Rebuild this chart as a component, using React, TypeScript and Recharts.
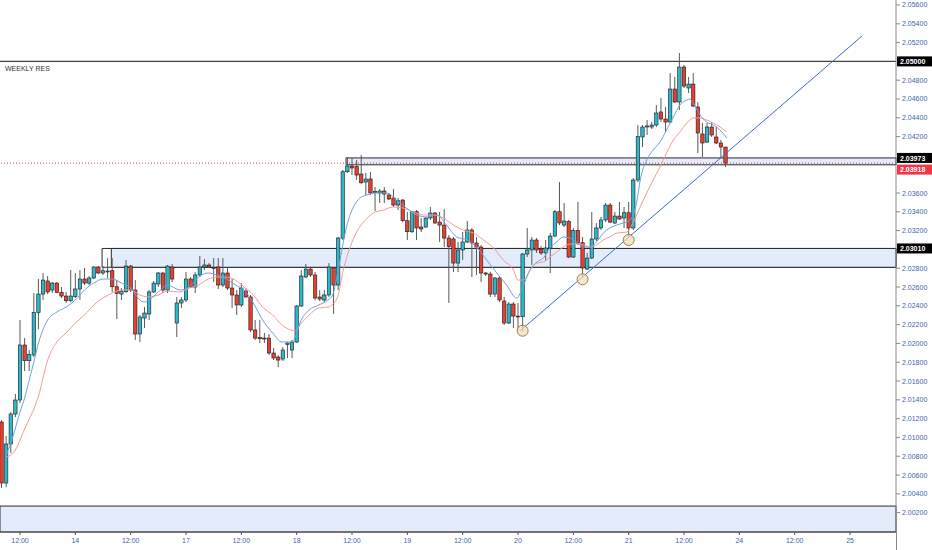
import {
  Bar,
  ComposedChart,
  Line,
  ReferenceArea,
  ReferenceDot,
  ReferenceLine,
  XAxis,
  YAxis,
} from "recharts";

// hourly candles, [open, high, low, close]
const ohlc: [number, number, number, number][] = [
  [2.01164, 2.01185, 2.00462, 2.00515], [2.00515, 2.01015, 2.00472, 2.0093], [2.0093, 2.0127, 2.00834, 2.01249],
  [2.01249, 2.01462, 2.01217, 2.01398], [2.01398, 2.02249, 2.01366, 2.01983], [2.01983, 2.02057, 2.01706, 2.01816],
  [2.01816, 2.0193, 2.01706, 2.0188], [2.01877, 2.02536, 2.01855, 2.02327], [2.02327, 2.02685, 2.02153, 2.02525],
  [2.02525, 2.02749, 2.02462, 2.02674], [2.02664, 2.02717, 2.02525, 2.02547], [2.02568, 2.02653, 2.02536, 2.02642],
  [2.02642, 2.02653, 2.02536, 2.0254], [2.0254, 2.026, 2.02483, 2.02504], [2.02504, 2.02547, 2.0243, 2.02454],
  [2.02454, 2.02781, 2.0244, 2.02504], [2.02497, 2.02749, 2.02483, 2.02579], [2.02579, 2.02781, 2.02462, 2.02685],
  [2.02685, 2.02802, 2.02621, 2.02642], [2.02642, 2.02717, 2.02621, 2.02696], [2.02696, 2.02823, 2.02685, 2.02813],
  [2.02813, 2.02823, 2.02738, 2.02749], [2.02749, 2.02823, 2.02728, 2.02773], [2.0276, 2.02908, 2.02696, 2.0277],
  [2.02773, 2.02908, 2.02547, 2.02603], [2.02603, 2.02674, 2.0226, 2.02533], [2.02525, 2.02589, 2.02462, 2.02557],
  [2.0255, 2.02887, 2.02536, 2.02823], [2.02823, 2.02834, 2.02547, 2.02568], [2.02568, 2.02674, 2.02036, 2.021],
  [2.021, 2.02302, 2.02015, 2.02281], [2.0227, 2.02387, 2.02164, 2.02323], [2.02313, 2.02568, 2.02249, 2.02547],
  [2.02547, 2.02664, 2.02536, 2.02642], [2.02632, 2.0276, 2.026, 2.02749], [2.02749, 2.0276, 2.02536, 2.02568],
  [2.02568, 2.02834, 2.02536, 2.02823], [2.02813, 2.02845, 2.02653, 2.02685], [2.02217, 2.02494, 2.02068, 2.0243],
  [2.0243, 2.02494, 2.02377, 2.02462], [2.02462, 2.0276, 2.0244, 2.02685], [2.02685, 2.02706, 2.02589, 2.026],
  [2.026, 2.0276, 2.02536, 2.02728], [2.02728, 2.0293, 2.02706, 2.02813], [2.02813, 2.02898, 2.02781, 2.02834],
  [2.02834, 2.02855, 2.02802, 2.02813], [2.02797, 2.02908, 2.02653, 2.02807], [2.02813, 2.02908, 2.02579, 2.02621],
  [2.02621, 2.02908, 2.026, 2.02749], [2.02749, 2.02813, 2.02568, 2.02589], [2.02589, 2.02685, 2.02377, 2.02515],
  [2.02515, 2.02568, 2.02302, 2.02409], [2.02409, 2.02642, 2.02387, 2.02589], [2.02557, 2.02589, 2.02483, 2.02494],
  [2.02494, 2.02515, 2.02121, 2.02143], [2.02143, 2.02249, 2.02036, 2.02057], [2.02061, 2.02249, 2.02004, 2.0205],
  [2.02057, 2.02111, 2.02004, 2.02047], [2.02057, 2.021, 2.01877, 2.01898], [2.01898, 2.01951, 2.01823, 2.01845],
  [2.01855, 2.01877, 2.01749, 2.01823], [2.01834, 2.01962, 2.01813, 2.0193], [2.01988, 2.02015, 2.01845, 2.02004],
  [2.0193, 2.02036, 2.01845, 2.02015], [2.02015, 2.02409, 2.02004, 2.02398], [2.02398, 2.02781, 2.02387, 2.02717],
  [2.02706, 2.02845, 2.02696, 2.02791], [2.02791, 2.02802, 2.02706, 2.02728], [2.02728, 2.0276, 2.02462, 2.02483],
  [2.02494, 2.02568, 2.02451, 2.02472], [2.02462, 2.02568, 2.0244, 2.02515], [2.02515, 2.02855, 2.02494, 2.02813],
  [2.02802, 2.02813, 2.02313, 2.02621], [2.02621, 2.03132, 2.02568, 2.03121], [2.03121, 2.03845, 2.031, 2.03826],
  [2.03826, 2.03983, 2.03813, 2.03887], [2.03887, 2.03972, 2.03791, 2.03866], [2.0388, 2.03951, 2.03738, 2.03791],
  [2.03802, 2.04004, 2.03696, 2.03709], [2.03717, 2.03813, 2.03579, 2.03749], [2.03749, 2.03823, 2.03579, 2.036],
  [2.03611, 2.03664, 2.03408, 2.03616], [2.036, 2.03642, 2.03494, 2.03621], [2.03621, 2.03664, 2.03494, 2.03589],
  [2.03579, 2.036, 2.03525, 2.03536], [2.03547, 2.03642, 2.03451, 2.03472], [2.03472, 2.03547, 2.03419, 2.03518],
  [2.03525, 2.03536, 2.03291, 2.03305], [2.03305, 2.03398, 2.031, 2.03188], [2.03188, 2.03408, 2.03174, 2.03401],
  [2.03401, 2.03419, 2.031, 2.03228], [2.03238, 2.03334, 2.03185, 2.03217], [2.03238, 2.03345, 2.03228, 2.03334],
  [2.03334, 2.03451, 2.03313, 2.03387], [2.03387, 2.03398, 2.0327, 2.03281], [2.03291, 2.03398, 2.03079, 2.03259],
  [2.03259, 2.0343, 2.03025, 2.03121], [2.03121, 2.03153, 2.0243, 2.03029], [2.03111, 2.03132, 2.0276, 2.02855],
  [2.02855, 2.03079, 2.0276, 2.02994], [2.02994, 2.03185, 2.02887, 2.03079], [2.03079, 2.03302, 2.03068, 2.03206],
  [2.03206, 2.03228, 2.02706, 2.03068], [2.03068, 2.03132, 2.02728, 2.03025], [2.03025, 2.03047, 2.02653, 2.02749],
  [2.02749, 2.0276, 2.02717, 2.02738], [2.02738, 2.0276, 2.02494, 2.02525], [2.02525, 2.02706, 2.02494, 2.02696],
  [2.02696, 2.02706, 2.0244, 2.02462], [2.02451, 2.02494, 2.02196, 2.02217], [2.02217, 2.0244, 2.02206, 2.02419],
  [2.02419, 2.0244, 2.02164, 2.02291], [2.02291, 2.0243, 2.02143, 2.02281], [2.02284, 2.02962, 2.02121, 2.02951],
  [2.02951, 2.03228, 2.02919, 2.02994], [2.02994, 2.03132, 2.02834, 2.031], [2.031, 2.03121, 2.02962, 2.02994],
  [2.03004, 2.03036, 2.0294, 2.02962], [2.02962, 2.031, 2.02877, 2.03015], [2.03015, 2.03174, 2.02749, 2.03142],
  [2.03142, 2.03419, 2.03132, 2.03401], [2.03401, 2.03717, 2.03259, 2.03281], [2.03259, 2.03494, 2.03238, 2.03302],
  [2.03295, 2.03313, 2.02908, 2.02919], [2.02919, 2.03228, 2.02908, 2.03199], [2.03199, 2.03504, 2.03047, 2.03068],
  [2.03071, 2.03132, 2.02706, 2.02802], [2.02791, 2.02962, 2.02781, 2.02908], [2.02908, 2.03398, 2.02898, 2.03111],
  [2.03111, 2.03281, 2.03089, 2.03228], [2.03228, 2.03345, 2.03206, 2.03313], [2.03313, 2.03494, 2.03291, 2.03472],
  [2.03472, 2.03494, 2.03281, 2.03291], [2.03281, 2.03398, 2.0327, 2.03355], [2.03355, 2.03504, 2.03313, 2.03323],
  [2.03334, 2.03451, 2.03228, 2.0339], [2.0339, 2.03504, 2.03121, 2.03228], [2.03228, 2.03759, 2.03206, 2.03738],
  [2.03738, 2.04323, 2.03717, 2.04199], [2.04196, 2.04323, 2.04089, 2.04302], [2.04302, 2.04376, 2.04217, 2.04313],
  [2.04302, 2.04355, 2.04281, 2.04323], [2.04323, 2.04536, 2.04302, 2.04451], [2.04462, 2.0461, 2.04355, 2.04387],
  [2.04387, 2.04515, 2.04249, 2.04355], [2.04355, 2.04876, 2.04344, 2.04706], [2.04706, 2.04834, 2.04557, 2.04568],
  [2.04568, 2.05089, 2.04483, 2.0494], [2.0494, 2.04962, 2.04717, 2.04738], [2.04717, 2.04834, 2.04664, 2.04759],
  [2.04759, 2.04876, 2.04515, 2.04525], [2.04515, 2.04568, 2.04025, 2.04238], [2.04228, 2.04344, 2.03983, 2.04132],
  [2.04142, 2.04344, 2.04132, 2.04302], [2.04302, 2.04355, 2.04196, 2.04217], [2.04196, 2.04302, 2.04121, 2.04132],
  [2.04132, 2.04164, 2.03972, 2.04089], [2.04089, 2.04089, 2.03876, 2.03918],
];

// moving averages, [candle index, price]
const fastMa: [number, number][] = [
  [1, 2.00813], [2, 2.0094], [3, 2.011], [4, 2.0127], [5, 2.01419], [6, 2.0161], [7, 2.01802], [8, 2.02004],
  [10, 2.02249], [12, 2.02334], [14, 2.02387], [16, 2.02462], [18, 2.02568], [20, 2.02642], [22, 2.02685],
  [24, 2.02685], [26, 2.02642], [28, 2.02589], [30, 2.02462], [31, 2.0244], [32, 2.02462], [34, 2.02547],
  [36, 2.02621], [38.7, 2.02568], [40.7, 2.026], [42.7, 2.02706], [44.8, 2.02749], [46.7, 2.02728],
  [48.8, 2.02685], [50.7, 2.02621], [52.6, 2.02568], [54.6, 2.0243], [56.6, 2.02249], [58.8, 2.02111],
  [60.8, 2.02015], [62.7, 2.02015], [63.7, 2.02068], [64.7, 2.02217], [66.7, 2.02355], [68.8, 2.02409],
  [70.8, 2.02462], [71.8, 2.02515], [72.7, 2.02706], [73.4, 2.02887], [74.8, 2.03238], [76.3, 2.03451],
  [77.7, 2.03547], [79.2, 2.03579], [81.3, 2.036], [83.5, 2.036], [85.7, 2.03525], [87.8, 2.0344],
  [90, 2.03366], [92.2, 2.03345], [94.4, 2.03366], [96.5, 2.03259], [98.7, 2.03132], [100.9, 2.031],
  [103, 2.03025], [105.2, 2.02887], [107.4, 2.02749], [109.5, 2.02621], [111.7, 2.02483], [113.2, 2.02621],
  [114.6, 2.02781], [116.1, 2.02866], [117.5, 2.02908], [118.9, 2.03015], [120.4, 2.03079], [121.8, 2.03132],
  [123.3, 2.03121], [124.7, 2.03079], [126.2, 2.03025], [127.6, 2.03025], [129, 2.03079], [130.5, 2.03174],
  [131.9, 2.03228], [133.4, 2.03259], [134.8, 2.03281], [136.3, 2.03313], [137.7, 2.03494], [138.5, 2.03738],
  [139.9, 2.03951], [141.3, 2.04057], [142.8, 2.04142], [144.2, 2.0427], [145.7, 2.04408], [147.1, 2.04536],
  [148.6, 2.04589], [149.3, 2.046], [150, 2.04557], [151.5, 2.0443], [152.9, 2.04355], [154.4, 2.04323],
  [155.8, 2.0427], [157.3, 2.04185],
];

const slowMa: [number, number][] = [
  [1, 2.00792], [2, 2.00813], [3, 2.00866], [4, 2.00972], [5, 2.01089], [6, 2.01196], [7, 2.01302],
  [8, 2.0144], [10, 2.01823], [12, 2.02015], [14, 2.02111], [16, 2.02217], [18, 2.02302], [20, 2.02409],
  [22, 2.02483], [24, 2.02536], [26, 2.02568], [28, 2.02568], [30, 2.02515], [32, 2.02494], [34, 2.02515],
  [36, 2.02557], [38.7, 2.02547], [40.7, 2.02589], [42.7, 2.02621], [44.8, 2.02685], [46.7, 2.02706],
  [48.8, 2.02706], [50.7, 2.02674], [52.6, 2.026], [54.6, 2.02515], [56.6, 2.02387], [58.8, 2.02302],
  [60.8, 2.02196], [62.7, 2.02143], [63.7, 2.02132], [64.7, 2.02196], [66.7, 2.02302], [68.8, 2.02377],
  [70.8, 2.02387], [72.8, 2.02483], [74.1, 2.02781], [75.6, 2.03025], [77, 2.03185], [78.5, 2.03291],
  [80.6, 2.03387], [82.8, 2.03419], [84.9, 2.03451], [87.1, 2.0344], [89.3, 2.03398], [91.5, 2.03366],
  [93.6, 2.03366], [95.8, 2.03334], [98, 2.03259], [100.1, 2.03206], [102.3, 2.03174], [104.5, 2.031],
  [106.7, 2.03015], [108.8, 2.02887], [111, 2.02781], [112, 2.02674], [113.2, 2.02674], [114.6, 2.02781],
  [116.1, 2.02855], [117.5, 2.02866], [118.9, 2.02919], [120.4, 2.02972], [121.8, 2.03025], [123.3, 2.03057],
  [124.7, 2.03057], [126.2, 2.03047], [127.6, 2.03025], [129, 2.03047], [130.5, 2.031], [131.9, 2.03132],
  [133.4, 2.03174], [135.6, 2.03185], [137, 2.03291], [138.5, 2.03451], [139.9, 2.036], [141.3, 2.03738],
  [142.8, 2.03877], [144.2, 2.04025], [145.7, 2.04164], [147.1, 2.04249], [148.6, 2.04344], [150, 2.04398],
  [151.5, 2.04398], [152.9, 2.04376], [154.4, 2.04344], [155.8, 2.04302], [157.3, 2.04249],
];

// price scale labels (the ones under the price tags are not drawn)
const priceTicks = [
  2.002, 2.004, 2.006, 2.008, 2.01, 2.012, 2.014, 2.016, 2.018, 2.02, 2.022, 2.024, 2.026, 2.028,
  2.032, 2.034, 2.036, 2.042, 2.044, 2.046, 2.048, 2.052, 2.054, 2.056,
];
const timeTicks = [4, 16, 28, 40, 52, 64, 76, 88, 100, 112, 124, 136, 148, 160, 172, 184];
const timeLabels = ["12:00", "14", "12:00", "17", "12:00", "18", "12:00", "19", "12:00", "20", "12:00", "21", "12:00", "24", "12:00", "25"];

// drawn boxes: [start index, bottom, top, filled]
const zones: [number, number, number, boolean][] = [
  [21.8, 2.0281, 2.0301, false],
  [23.8, 2.0281, 2.0301, true],
  [74.7, 2.039, 2.03973, true],
  [-0.34, 1.99994, 2.0027, true],
];
const weeklyRes = 2.05;
const lastPrice = 2.03918;
const trend = [
  { x: 112.4, y: 2.02132 },
  { x: 186.6, y: 2.0527 },
];
const touches: [number, number][] = [
  [113, 2.02135],
  [126, 2.02682],
  [136, 2.031],
];

const X_DOMAIN: [number, number] = [-0.34, 193.97];
const Y_DOMAIN: [number, number] = [1.99994, 2.05653];

const UP = "#2bb7cc";
const DOWN = "#e8402f";
const TICK_TEXT = "#3f63a8";

const bars = ohlc.map(([o, h, l, c], i) => ({ i, o, h, l, c, range: [l, h] }));
const fastData = fastMa.map(([i, v]) => ({ i, v }));
const slowData = slowMa.map(([i, v]) => ({ i, v }));

function Candle(props: any) {
  const { x, y, width, height, payload } = props;
  const { o, h, l, c } = payload;
  const top = Math.min(y, y + height);
  const span = Math.abs(height);
  const cx = x + width / 2;
  const py = (v: number) => top + ((h - v) / (h - l || 1e-9)) * span;
  const bodyTop = py(Math.max(o, c));
  const bodyBot = py(Math.min(o, c));
  return (
    <g>
      <line x1={cx} x2={cx} y1={top} y2={top + span} stroke="#5a5a5a" strokeWidth={1} />
      <rect
        x={cx - 1.7}
        y={bodyTop}
        width={3.4}
        height={Math.max(bodyBot - bodyTop, 0.8)}
        fill={c >= o ? UP : DOWN}
        stroke="#1a1a1a"
        strokeWidth={0.6}
      />
    </g>
  );
}

function PriceTick({ x, y, payload }: any) {
  return (
    <text x={x} y={y} dy={2.5} fontSize={7} fill={TICK_TEXT}>
      {payload.value.toFixed(5)}
    </text>
  );
}

function tag(text: string, bg: string, dy = 0) {
  return (p: any) => {
    const vb = p.viewBox;
    const x = vb.x + vb.width;
    const y = vb.y + dy;
    return (
      <g>
        <rect x={x + 1} y={y - 5} width={36} height={10} fill={bg} />
        <text x={x + 4} y={y + 2.6} fontSize={7} fontWeight={700} fill="#fff">
          {text}
        </text>
      </g>
    );
  };
}

export default function App() {
  return (
    <div style={{ width: 932, height: 550, fontFamily: "'Liberation Sans', Arial, sans-serif", position: "relative" }}>
      <style>{"body{margin:0;background:#fff}"}</style>
      <ComposedChart width={932} height={550} data={bars} margin={{ top: 0, right: 0, bottom: 0, left: 0 }}>
        <XAxis
          dataKey="i"
          type="number"
          domain={X_DOMAIN}
          allowDataOverflow
          ticks={timeTicks}
          interval={0}
          tickFormatter={(v) => timeLabels[timeTicks.indexOf(v)] ?? ""}
          height={18}
          stroke="#555"
          tickSize={3}
          tickMargin={3}
          tick={{ fontSize: 7, fill: TICK_TEXT }}
        />
        <YAxis
          orientation="right"
          type="number"
          domain={Y_DOMAIN}
          allowDataOverflow
          ticks={priceTicks}
          interval={0}
          width={36}
          stroke="#888"
          tickSize={4}
          tickMargin={2}
          tick={<PriceTick />}
        />
        {zones.map(([from, lo, hi, filled], k) => (
          <ReferenceArea
            key={k}
            x1={from}
            x2={X_DOMAIN[1]}
            y1={lo}
            y2={hi}
            fill={filled ? "#e3ecfa" : "none"}
            fillOpacity={1}
            stroke="#2a2a2a"
            strokeWidth={1}
            ifOverflow="visible"
          />
        ))}
        <ReferenceLine
          y={weeklyRes}
          stroke="#444"
          strokeWidth={1.2}
          label={(p: any) => (
            <g>
              {tag("2.05000", "#000")(p)}
              <text x={p.viewBox.x + 5} y={p.viewBox.y + 10} fontSize={7} fill="#333">
                WEEKLY RES
              </text>
            </g>
          )}
        />
        <ReferenceLine y={zones[2][2]} stroke="#111" strokeWidth={1} strokeOpacity={0} label={tag("2.03973", "#000")} />
        <ReferenceLine y={zones[0][2]} stroke="#111" strokeWidth={1} strokeOpacity={0} label={tag("2.03010", "#000")} />
        <ReferenceLine
          y={lastPrice}
          stroke="#f23645"
          strokeWidth={1}
          strokeDasharray="1 2"
          label={tag("2.03918", "#f23645", 6.5)}
        />
        <Line
          data={slowData}
          dataKey="v"
          type="monotone"
          stroke="#f59a94"
          strokeWidth={1}
          dot={false}
          activeDot={false}
          isAnimationActive={false}
        />
        <Line
          data={fastData}
          dataKey="v"
          type="monotone"
          stroke="#6aa3de"
          strokeWidth={1}
          dot={false}
          activeDot={false}
          isAnimationActive={false}
        />
        <Bar dataKey="range" barSize={4} shape={<Candle />} activeBar={false} isAnimationActive={false} />
        <ReferenceLine segment={trend} stroke="#3d6cc0" strokeWidth={1} ifOverflow="visible" />
        {touches.map(([i, p], k) => (
          <ReferenceDot
            key={k}
            x={i}
            y={p}
            r={5.5}
            fill="rgba(240,222,182,0.75)"
            stroke="#9c8052"
            strokeWidth={1}
          />
        ))}
      </ComposedChart>
      <div style={{ position: "absolute", left: 896, top: 532, width: 1, height: 18, background: "#888" }} />
    </div>
  );
}
